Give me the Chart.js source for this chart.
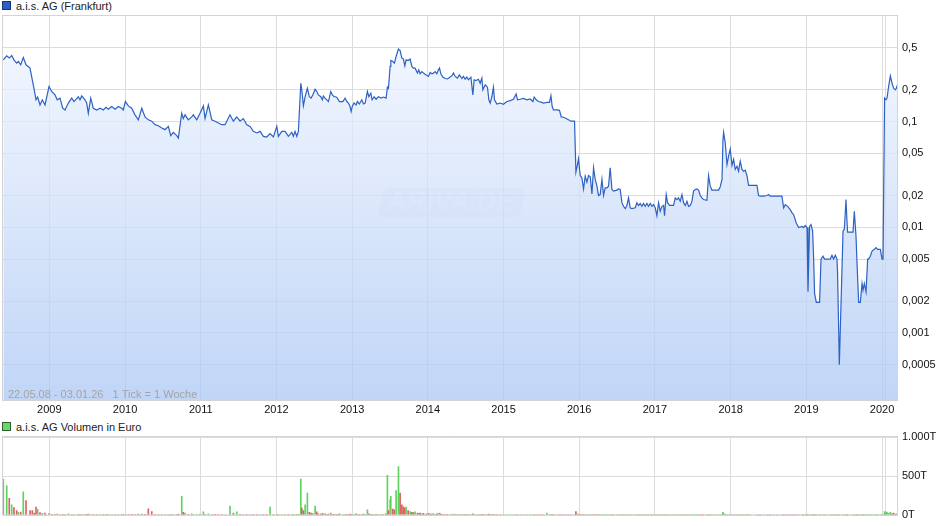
<!DOCTYPE html>
<html>
<head>
<meta charset="utf-8">
<title>a.i.s. AG (Frankfurt)</title>
<script src="https://cdn.jsdelivr.net/npm/chart.js@4.4.0/dist/chart.umd.min.js"></script>
<style>
    body { margin: 0; background: #fff; font-family: "Liberation Sans", Arial, sans-serif; }
    #wrap { position: relative; width: 940px; height: 526px; overflow: hidden; }
    canvas { position: absolute; left: 0; }
    .legend { position: absolute; left: 2px; font-size: 11px; color: #222; line-height: 13px; white-space: nowrap; }
    .legend i { display: inline-block; width: 7px; height: 7px; margin-right: 5px; vertical-align: 0px; }
</style>
</head>
<body>
<div id="wrap">
    <div class="legend" style="top:0px"><i style="background:#2a5fc8;border:1px solid #14357a"></i>a.i.s. AG (Frankfurt)</div>
    <canvas id="kursChart" width="940" height="420" style="top:0"></canvas>
    <div class="legend" style="top:421px"><i style="background:#66d966;border:1px solid #2f5f2f"></i>a.i.s. AG Volumen in Euro</div>
    <canvas id="volChart" width="940" height="106" style="top:420px"></canvas>
</div>
<script>
// Wochenkurse (Datum als Jahresbruchteil), Kurs in EUR, Volumen in Tausend EUR
const weeks = [
    2008.392, 2008.437, 2008.471, 2008.503, 2008.533, 2008.569, 2008.590, 2008.622, 2008.656, 2008.692, 2008.745, 2008.775, 2008.801, 2008.824, 2008.846, 2008.877, 2008.907, 2008.943,
    2008.996, 2009.031, 2009.075, 2009.105, 2009.141, 2009.177, 2009.207, 2009.251, 2009.296, 2009.326, 2009.383, 2009.405, 2009.428, 2009.471, 2009.494, 2009.515, 2009.547, 2009.581, 2009.626, 2009.670, 2009.713, 2009.749, 2009.779, 2009.824, 2009.868, 2009.911, 2009.956, 2009.977,
    2010.004, 2010.044, 2010.088, 2010.132, 2010.176, 2010.221, 2010.264, 2010.308, 2010.353, 2010.396, 2010.440, 2010.485, 2010.529, 2010.572, 2010.604, 2010.638, 2010.683, 2010.704, 2010.749, 2010.770, 2010.793, 2010.836, 2010.881, 2010.902, 2010.947, 2010.991,
    2011.035, 2011.057, 2011.101, 2011.146, 2011.189, 2011.233, 2011.278, 2011.321, 2011.387, 2011.431, 2011.476, 2011.520, 2011.563, 2011.608, 2011.652, 2011.695, 2011.740, 2011.784, 2011.828, 2011.872, 2011.916, 2011.960,
    2012.005, 2012.026, 2012.071, 2012.114, 2012.158, 2012.203, 2012.224, 2012.246, 2012.269, 2012.290, 2012.322, 2012.335, 2012.356, 2012.379, 2012.409, 2012.435, 2012.458, 2012.480, 2012.511, 2012.533, 2012.554, 2012.586, 2012.607, 2012.620, 2012.643, 2012.665, 2012.687, 2012.718, 2012.739, 2012.762, 2012.784, 2012.805, 2012.832, 2012.877, 2012.907, 2012.930, 2012.951, 2012.973, 2012.987,
    2013.004, 2013.026, 2013.053, 2013.070, 2013.096, 2013.128, 2013.149, 2013.172, 2013.202, 2013.221, 2013.247, 2013.264, 2013.291, 2013.317, 2013.347, 2013.383, 2013.413, 2013.449, 2013.466, 2013.480, 2013.502, 2013.511, 2013.538, 2013.559, 2013.581, 2013.612, 2013.634, 2013.657, 2013.678, 2013.696, 2013.713, 2013.740, 2013.766, 2013.789, 2013.810, 2013.832, 2013.863, 2013.881, 2013.898, 2013.921, 2013.942, 2013.978,
    2014.008, 2014.031, 2014.053, 2014.074, 2014.097, 2014.119, 2014.140, 2014.154, 2014.172, 2014.198, 2014.229, 2014.259, 2014.295, 2014.317, 2014.339, 2014.361, 2014.391, 2014.418, 2014.450, 2014.471, 2014.493, 2014.516, 2014.537, 2014.569, 2014.595, 2014.612, 2014.635, 2014.669, 2014.691, 2014.714, 2014.727, 2014.758, 2014.788, 2014.806, 2014.824, 2014.846, 2014.867, 2014.880, 2014.912, 2014.956,
    2014.999, 2015.044, 2015.088, 2015.131, 2015.167, 2015.184, 2015.220, 2015.264, 2015.309, 2015.352, 2015.388, 2015.405, 2015.431, 2015.462, 2015.494, 2015.528, 2015.573, 2015.607, 2015.626, 2015.643, 2015.660, 2015.705, 2015.739, 2015.762, 2015.792, 2015.828, 2015.858, 2015.890, 2015.938,
    2015.956, 2015.977, 2015.990, 2016.013, 2016.035, 2016.057, 2016.079, 2016.101, 2016.123, 2016.145, 2016.168, 2016.189, 2016.211, 2016.234, 2016.255, 2016.277, 2016.300, 2016.321, 2016.343, 2016.366, 2016.387, 2016.409, 2016.432, 2016.453, 2016.498, 2016.519, 2016.541, 2016.564, 2016.585, 2016.608, 2016.630, 2016.651, 2016.674, 2016.696, 2016.740, 2016.762, 2016.783, 2016.806, 2016.828, 2016.849, 2016.872, 2016.894, 2016.915, 2016.938, 2016.960, 2016.981,
    2017.004, 2017.026, 2017.048, 2017.070, 2017.093, 2017.114, 2017.127, 2017.149, 2017.167, 2017.193, 2017.225, 2017.246, 2017.268, 2017.291, 2017.312, 2017.334, 2017.357, 2017.378, 2017.401, 2017.423, 2017.444, 2017.467, 2017.489, 2017.510, 2017.533, 2017.555, 2017.576, 2017.599, 2017.621, 2017.642, 2017.687, 2017.708, 2017.731, 2017.753, 2017.797, 2017.841, 2017.863, 2017.886, 2017.899, 2017.907, 2017.929, 2017.952, 2017.973, 2017.995,
    2018.018, 2018.039, 2018.061, 2018.084, 2018.105, 2018.127, 2018.150, 2018.171, 2018.193, 2018.216, 2018.237, 2018.259, 2018.348, 2018.369, 2018.392, 2018.435, 2018.480, 2018.501, 2018.524, 2018.567, 2018.612, 2018.678, 2018.700, 2018.722, 2018.752, 2018.788, 2018.811, 2018.832, 2018.867, 2018.898, 2018.943, 2018.964, 2018.986,
    2019.009, 2019.022, 2019.043, 2019.062, 2019.083, 2019.096, 2019.109, 2019.132, 2019.175, 2019.194, 2019.220, 2019.241, 2019.273, 2019.317, 2019.339, 2019.360, 2019.383, 2019.405, 2019.413, 2019.436, 2019.485, 2019.502, 2019.524, 2019.537, 2019.545, 2019.617, 2019.634, 2019.656, 2019.670, 2019.691, 2019.713, 2019.736, 2019.749, 2019.766, 2019.789, 2019.810, 2019.823, 2019.845, 2019.868, 2019.898, 2019.921, 2019.942, 2019.978,
    2020.000, 2020.013, 2020.034, 2020.053, 2020.066, 2020.087, 2020.110, 2020.132, 2020.153, 2020.176, 2020.189, 2020.211
];

const kurs = [
    .385, .420, .400, .423, .385, .358, .371, .345, .405, .345, .321, .249, .200, .161, .171, .144, .161, .144,
    .215, .193, .179, .161, .167, .134, .129, .150, .167, .155, .172, .161, .175, .161, .150, .120, .167, .134, .129, .134, .129, .137, .131, .139, .131, .139, .134, .129,
    .155, .141, .134, .116, .104, .134, .111, .104, .101, .0936, .0916, .0871, .0840, .0902, .0737, .0792, .0737, .0700, .120, .107, .116, .104, .111, .116, .104, .120,
    .141, .107, .144, .104, .101, .0972, .0936, .0936, .116, .101, .111, .101, .107, .0936, .0902, .0809, .0782, .0809, .0726, .0716, .0770, .0716,
    .0902, .0726, .0809, .0809, .0726, .0792, .0726, .0809, .0726, .0809, .231, .200, .141, .172, .207, .172, .167, .179, .203, .193, .179, .172, .161, .175, .167, .161, .155, .193, .179, .172, .172, .167, .155, .155, .167, .155, .150, .139, .125,
    .141, .150, .144, .155, .147, .161, .147, .150, .193, .172, .186, .161, .172, .163, .172, .167, .171, .167, .212, .207, .333, .379, .371, .358, .414, .486, .471, .400, .391, .338, .385, .379, .391, .333, .321, .321, .288, .309, .284, .298, .288, .277,
    .268, .292, .284, .288, .298, .284, .309, .321, .284, .264, .256, .254, .264, .271, .288, .268, .258, .277, .256, .268, .252, .264, .249, .264, .179, .249, .245, .252, .231, .258, .200, .223, .212, .161, .150, .172, .212, .161, .147, .150,
    .146, .155, .158, .163, .183, .161, .163, .166, .161, .164, .155, .171, .161, .155, .153, .150, .152, .152, .176, .139, .129, .129, .128, .111, .110, .107, .104, .101, .101,
    .0333, .0393, .0446, .0309, .0294, .0231, .0305, .0268, .0309, .0301, .0207, .0366, .0284, .0245, .0200, .0204, .0284, .0200, .0236, .0236, .0245, .0366, .0228, .0220, .0225, .0231, .0228, .0171, .0158, .0150, .0161, .0190, .0153, .0150, .0153, .0171, .0161, .0168, .0158, .0168, .0158, .0168, .0158, .0168, .0158, .0164,
    .0153, .0129, .0171, .0142, .0158, .0161, .0129, .0204, .0171, .0161, .0161, .0161, .0190, .0183, .0190, .0176, .0204, .0171, .0161, .0176, .0158, .0161, .0176, .0220, .0228, .0231, .0225, .0200, .0190, .0183, .0180, .0309, .0245, .0225, .0225, .0225, .0242, .0284, .0675, .0792, .0628, .0393, .0471, .0551,
    .0385, .0439, .0353, .0379, .0340, .0423, .0353, .0340, .0347, .0309, .0249, .0249, .0249, .0200, .0197, .0197, .0200, .0204, .0197, .0197, .0197, .0197, .0153, .0164, .0158, .0147, .0137, .0132, .0110, .00994, .0102, .00994, .0104,
    .00994, .00245, .0102, .0106, .00922, .00517, .00236, .00195, .00195, .0050, .00533, .0050, .0050, .0050, .00543, .0050, .00543, .0050, .00366, .0005, .00922, .00957, .0183, .0114, .00902, .00902, .0142, .00827, .00455, .00195, .00195, .00294, .00254, .00294, .00245, .0050, .0050, .00533, .00596, .00619, .00642, .00619, .00619,
    .0050, .0050, .167, .161, .167, .215, .271, .231, .207, .200, .207, .231
];

const volumen = [
    460, 380, 218, 134, 100, 63, 40, 42, 302, 189, 60, 63, 30, 105, 76, 35, 25, 30,
    25, 15, 12, 18, 10, 14, 9, 20, 12, 8, 15, 10, 12, 9, 14, 18, 11, 10, 8, 12, 9, 15, 10, 8, 11, 13, 9, 10,
    12, 10, 14, 9, 18, 20, 15, 84, 50, 10, 12, 10, 7, 11, 9, 13, 10, 16, 244, 40, 28, 15, 20, 12, 10, 18,
    45, 12, 20, 10, 14, 9, 12, 8, 118, 30, 45, 10, 12, 9, 8, 14, 10, 8, 12, 9, 105, 10,
    12, 10, 8, 14, 9, 11, 10, 8, 12, 15, 462, 92, 60, 134, 286, 40, 30, 25, 118, 45, 20, 18, 25, 15, 20, 12, 18, 30, 15, 12, 10, 14, 20, 12, 15, 10, 12, 18, 15,
    15, 12, 20, 10, 14, 12, 18, 10, 71, 20, 15, 12, 10, 14, 12, 10, 15, 20, 512, 60, 200, 244, 80, 70, 315, 622, 286, 134, 110, 92, 105, 60, 50, 40, 35, 45, 30, 25, 30, 20, 25, 18,
    25, 20, 18, 22, 15, 20, 25, 30, 18, 15, 12, 14, 10, 12, 18, 10, 12, 15, 10, 8, 12, 10, 9, 12, 20, 10, 8, 10, 12, 9, 15, 10, 12, 18, 10, 12, 15, 8, 10, 9,
    8, 6, 10, 5, 12, 6, 8, 5, 7, 10, 6, 8, 5, 9, 6, 7, 30, 8, 12, 6, 9, 5, 8, 6, 10, 7, 5, 8, 6,
    50, 20, 15, 12, 8, 10, 6, 8, 5, 7, 10, 12, 6, 5, 8, 6, 9, 5, 7, 6, 5, 8, 6, 5, 7, 5, 6, 8, 5, 6, 5, 7, 5, 6, 4, 5, 6, 5, 4, 6, 5, 4, 5, 6, 4, 5,
    5, 4, 6, 5, 4, 6, 5, 8, 5, 4, 5, 4, 6, 5, 4, 5, 6, 4, 5, 4, 5, 4, 5, 8, 6, 5, 4, 5, 4, 5, 4, 12, 6, 5, 4, 5, 6, 8, 40, 25, 10, 8, 6, 5,
    6, 5, 8, 4, 5, 6, 4, 5, 4, 5, 6, 3, 4, 5, 3, 4, 3, 4, 3, 3, 3, 3, 5, 4, 3, 4, 5, 4, 6, 5, 4, 3, 4,
    4, 3, 5, 4, 3, 4, 5, 3, 4, 5, 3, 4, 3, 4, 3, 4, 3, 4, 5, 4, 3, 4, 6, 5, 4, 3, 5, 4, 3, 4, 3, 5, 4, 3, 4, 5, 4, 3, 4, 3, 4, 3, 5,
    5, 6, 50, 30, 42, 25, 40, 20, 30, 15, 20, 12
];

// Achsen
const yearTicks = [2009, 2010, 2011, 2012, 2013, 2014, 2015, 2016, 2017, 2018, 2019, 2020, 2020.044];
const kursTicks = [0.0005, 0.001, 0.002, 0.005, 0.01, 0.02, 0.05, 0.1, 0.2, 0.5];
const volTicks = [0, 500, 1000];
const xMin = 2008.388, xMax = 2020.211;

const FONT = '"Liberation Sans", Arial, sans-serif';
const GRID = '#dcdcdc';

// Rahmen um die Zeichenfläche
const framePlugin = {
    id: 'frame',
    afterDraw(chart) {
        const { ctx, chartArea: a } = chart;
        ctx.save();
        ctx.strokeStyle = '#d4d4d4';
        ctx.lineWidth = 1;
        ctx.strokeRect(a.left - 0.5, a.top - 0.5, a.right - a.left, a.bottom - a.top);
        ctx.restore();
    }
};

// Wasserzeichen + Zeitraum-Info
const infoPlugin = {
    id: 'info',
    beforeDatasetsDraw(chart) {
        const { ctx } = chart;
        ctx.save();
        // ARIVA.DE Wasserzeichen
        ctx.translate(451, 202);
        ctx.transform(1, 0, -0.25, 1, 0, 0);
        ctx.fillStyle = 'rgba(120,140,175,0.10)';
        ctx.beginPath();
        ctx.roundRect(-70, -14, 142, 29, 6);
        ctx.fill();
        ctx.restore();

        ctx.save();
        ctx.font = 'italic bold 27px ' + FONT;
        ctx.textAlign = 'center';
        ctx.textBaseline = 'middle';
        ctx.fillStyle = 'rgba(255,255,255,0.35)';
        ctx.fillText('ARIVA.DE', 451, 203);
        ctx.restore();
    },
    afterDatasetsDraw(chart) {
        const { ctx, chartArea: a } = chart;
        ctx.save();
        ctx.font = '11px ' + FONT;
        ctx.fillStyle = '#a4a4a4';
        ctx.textBaseline = 'middle';
        ctx.fillText('22.05.08 - 03.01.26   1 Tick = 1 Woche', a.left + 5, a.bottom - 6);
        ctx.restore();
    }
};

function yearAxis(showLabels, height) {
    return {
        type: 'linear',
        min: xMin,
        max: xMax,
        offset: false,
        afterBuildTicks: axis => { axis.ticks = yearTicks.map(v => ({ value: v })); },
        afterFit: axis => { axis.height = height; },
        grid: { color: GRID, lineWidth: 1, drawTicks: false, offset: false },
        border: { display: false },
        ticks: {
            display: showLabels,
            autoSkip: false,
            maxRotation: 0,
            padding: 2,
            color: '#111',
            font: { family: FONT, size: 11 },
            callback: v => Number.isInteger(v) ? String(v) : ''
        }
    };
}

const kursChart = new Chart(document.getElementById('kursChart').getContext('2d'), {
    type: 'line',
    data: {
        datasets: [{
            label: 'a.i.s. AG (Frankfurt)',
            data: weeks.map((w, i) => ({ x: w, y: kurs[i] })),
            borderColor: '#2d62c4',
            borderWidth: 1.2,
            pointRadius: 0,
            tension: 0,
            fill: 'start',
            backgroundColor: context => {
                const { ctx, chartArea } = context.chart;
                if (!chartArea) return 'rgba(200,215,245,0.7)';
                const g = ctx.createLinearGradient(0, chartArea.top, 0, chartArea.bottom);
                g.addColorStop(0, 'rgba(243,247,255,0.75)');
                g.addColorStop(1, 'rgba(171,199,244,0.75)');
                return g;
            }
        }]
    },
    options: {
        responsive: false,
        animation: false,
        devicePixelRatio: 1,
        layout: { padding: { left: 3, top: 16, right: 0, bottom: 0 } },
        plugins: { legend: { display: false }, tooltip: { enabled: false } },
        scales: {
            x: yearAxis(true, 19),
            y: {
                type: 'logarithmic',
                position: 'right',
                min: 0.000227,
                max: 1.0,
                afterBuildTicks: axis => { axis.ticks = kursTicks.map(v => ({ value: v })); },
                afterFit: axis => { axis.width = 42; },
                grid: { color: GRID, lineWidth: 1, drawTicks: false },
                border: { display: false },
                ticks: {
                    padding: 4,
                    color: '#111',
                    font: { family: FONT, size: 11 },
                    callback: v => String(v).replace('.', ',')
                }
            }
        }
    },
    plugins: [infoPlugin, framePlugin]
});

// Volumen: gruen bei steigendem, rot bei fallendem Kurs
const volColors = kurs.map((k, i) => (i === 0 || k >= kurs[i - 1]) ? '#5fd35f' : '#e05f5f');

const volChart = new Chart(document.getElementById('volChart').getContext('2d'), {
    type: 'bar',
    data: {
        datasets: [{
            label: 'a.i.s. AG Volumen in Euro',
            data: weeks.map((w, i) => ({ x: w, y: volumen[i] })),
            backgroundColor: volColors,
            barThickness: 1,
            borderWidth: 0
        }]
    },
    options: {
        responsive: false,
        animation: false,
        devicePixelRatio: 1,
        layout: { padding: { left: 3, top: 17, right: 0, bottom: 0 } },
        plugins: { legend: { display: false }, tooltip: { enabled: false } },
        scales: {
            x: yearAxis(false, 9),
            y: {
                position: 'right',
                min: 0,
                max: 1000,
                afterBuildTicks: axis => { axis.ticks = volTicks.map(v => ({ value: v })); },
                afterFit: axis => { axis.width = 42; },
                grid: { color: GRID, lineWidth: 1, drawTicks: false },
                border: { display: false },
                ticks: {
                    padding: 4,
                    color: '#111',
                    font: { family: FONT, size: 11 },
                    callback: v => String(v).replace(/\B(?=(\d{3})+(?!\d))/g, '.') + 'T'
                }
            }
        }
    },
    plugins: [framePlugin]
});
</script>
</body>
</html>
